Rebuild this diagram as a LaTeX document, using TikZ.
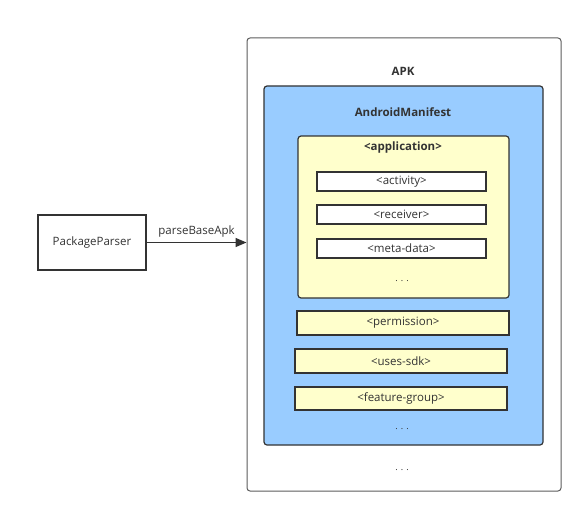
\documentclass[tikz,border=0pt]{standalone}
\usepackage{fontspec}
\setmainfont{Open Sans}
\usetikzlibrary{arrows.meta}

\definecolor{txtgray}{HTML}{333333}
\definecolor{manifestblue}{HTML}{99CCFF}
\definecolor{tagyellow}{HTML}{FFFFCC}

\begin{document}
\begin{tikzpicture}[x=1pt,y=-1pt,
  font=\fontsize{11.5}{13}\selectfont, text=txtgray,
  tagbox/.style={draw=txtgray,line width=1.4pt,fill=tagyellow,inner sep=0pt},
  itembox/.style={draw=txtgray,line width=1.4pt,fill=white,inner sep=0pt},
  title/.style={font=\bfseries\fontsize{11.5}{13}\selectfont},
  dots/.style={font=\fontsize{9}{10}\selectfont}]

% Canvas
\useasboundingbox (0,0) rectangle (580,516);

% APK container
\node[draw=txtgray!80,line width=1pt,rounded corners=3pt,fill=white,
  minimum width=314pt,minimum height=453pt,inner sep=0pt] (apk) at (404,264.5) {};
\node[title] (apklabel) at (403,71) {APK};

% Manifest
\node[draw=txtgray,line width=1.2pt,rounded corners=3pt,fill=manifestblue,
  minimum width=279pt,minimum height=359pt,inner sep=0pt] (manifest) at (403.5,265.5) {};
\node[title] (manifestlabel) at (403,112) {AndroidManifest};

% Application block
\node[draw=txtgray,line width=1.2pt,rounded corners=3pt,fill=tagyellow,
  minimum width=211pt,minimum height=162pt,inner sep=0pt] (app) at (403.5,217) {};
\node[title] (applabel) at (403,148) {<application>};

% Components
\node[itembox,minimum width=169pt,minimum height=19pt] (activity) at (401.5,181.5) {<activity>};
\node[itembox,minimum width=169pt,minimum height=19pt] (receiver) at (401.5,214.5) {<receiver>};
\node[itembox,minimum width=169pt,minimum height=19pt] (metadata) at (401.5,248.5) {<meta-data>};
\node[dots] (appdots) at (402,281) {. . .};

% Other tags
\node[tagbox,minimum width=212pt,minimum height=24pt] (permission) at (403,323) {<permission>};
\node[tagbox,minimum width=212pt,minimum height=24pt] (usessdk) at (401,361) {<uses-sdk>};
\node[tagbox,minimum width=212pt,minimum height=23pt] (featuregroup) at (401,398.5) {<feature-group>};
\node[dots] (manifestdots) at (402,429) {. . .};
\node[dots] (apkdots) at (402,470) {. . .};

% Parser
\node[draw=txtgray,line width=1.2pt,minimum width=108pt,minimum height=55pt,
  inner sep=0pt,fill=white] (parser) at (92,242.5) {PackageParser};

\draw[txtgray,line width=1.5pt,-{Triangle[length=11pt,width=9pt]}]
  (parser.east) -- node[above=1pt] {parseBaseApk} (parser.east -| apk.west);

\end{tikzpicture}
\end{document}
